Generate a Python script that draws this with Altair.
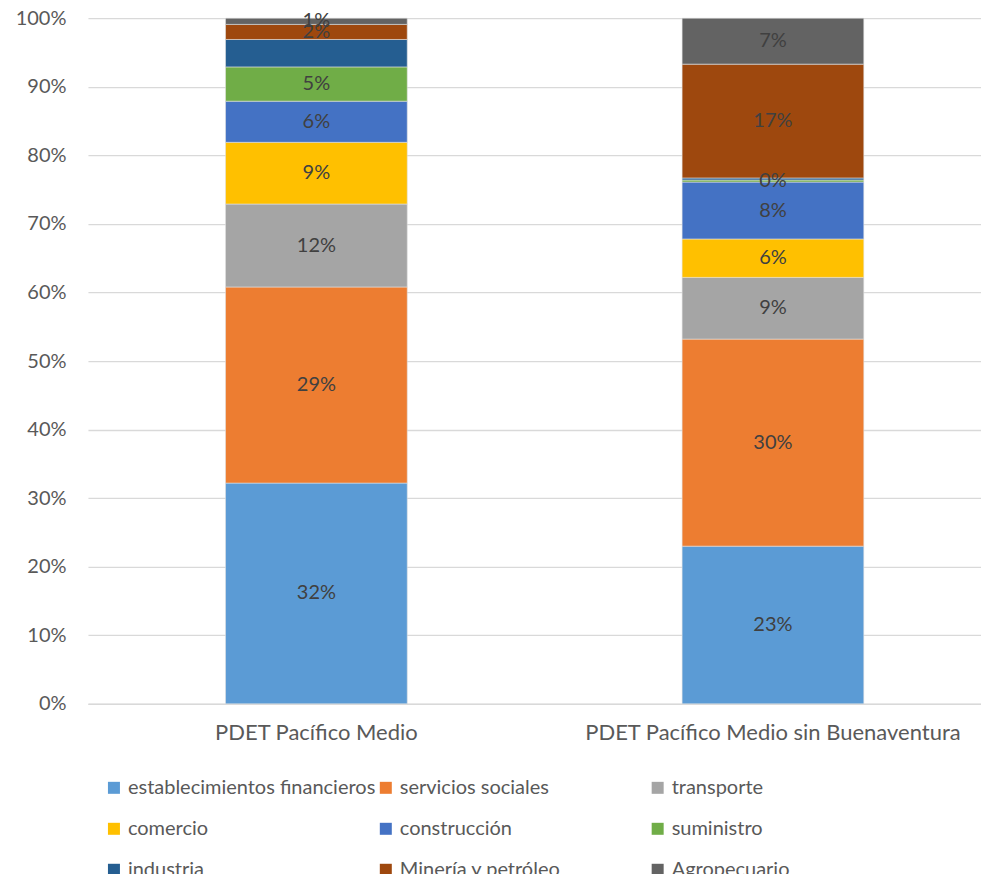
import altair as alt
import pandas as pd

groups = ["PDET Pacífico Medio", "PDET Pacífico Medio sin Buenaventura"]
sectors = ["establecimientos financieros", "servicios sociales", " transporte",
           "comercio", "construcción", "suministro", "industria",
           "Minería y petróleo", "Agropecuario"]
colors = ["#5B9BD5", "#ED7D31", "#A5A5A5", "#FFC000", "#4472C4", "#70AD47",
          "#255E91", "#9E480E", "#636363"]
values_medio = [32.2, 28.6, 12.1, 9.0, 6.0, 5.0, 4.0, 2.2, 0.9]
values_sin_bv = [23.0, 30.2, 9.0, 5.6, 8.3, 0.3, 0.3, 16.6, 6.7]
y_ticks = [0, 10, 20, 30, 40, 50, 60, 70, 80, 90, 100]

rows = []
for g, vals in zip(groups, [values_medio, values_sin_bv]):
    for i, (s, v) in enumerate(zip(sectors, vals)):
        rows.append({"group": g, "sector": s, "value": v, "idx": i})
df = pd.DataFrame(rows)

FONT = "Lato"
FS = 20

base = alt.Chart(df).transform_stack(
    stack="value", as_=["y0", "y1"], groupby=["group"],
    sort=[alt.SortField("idx", order="ascending")]
).transform_calculate(
    mid="(datum.y0 + datum.y1) / 2",
    label="format(datum.value / 100, '.0%')"
)

xenc = alt.X("group:N", sort=groups, title=None,
             scale=alt.Scale(paddingInner=0.602, paddingOuter=0.279, align=0.54),
             axis=alt.Axis(labelAngle=0, ticks=False, domainColor="#D9D9D9",
                           domainWidth=1.5, labelFontSize=22, labelColor="#595959",
                           labelFont=FONT, labelPadding=19, labelLimit=600))

bars = base.mark_bar(stroke="#E0E0E0", strokeWidth=0.6).encode(
    x=xenc,
    y=alt.Y("y0:Q", title=None,
            scale=alt.Scale(domain=[0, 100], nice=False),
            axis=alt.Axis(values=y_ticks, labelExpr="datum.value + '%'",
                          domain=False, ticks=False, gridColor="#D9D9D9",
                          gridWidth=1.3, labelFontSize=FS, labelColor="#595959",
                          labelFont=FONT, labelPadding=22)),
    y2="y1:Q",
    color=alt.Color("sector:N", sort=sectors,
                    scale=alt.Scale(domain=sectors, range=colors),
                    legend=alt.Legend(title=None, orient="none", legendX=16,
                                      legendY=760, columns=3, direction="horizontal",
                                      gridAlign="all", columnPadding=0,
                                      rowPadding=21, symbolType="square",
                                      symbolSize=144, symbolStrokeWidth=0,
                                      symbolOffset=0, labelFontSize=FS,
                                      labelColor="#595959", labelFont=FONT,
                                      labelOffset=4, labelLimit=400, padding=0)),
)

texts = base.transform_filter(
    "datum.sector != 'industria'"
).mark_text(fontSize=FS, color="#404040", font=FONT, baseline="middle").encode(
    x=alt.X("group:N", sort=groups),
    y=alt.Y("mid:Q"),
    text="label:N",
)

chart = alt.layer(bars, texts).properties(
    width=893.5, height=686, autosize="none",
    padding={"left": 80, "top": 10, "right": 0, "bottom": 170}
).configure_view(stroke=None)

chart.save("out.html", embed_options={"renderer": "svg", "actions": False})
